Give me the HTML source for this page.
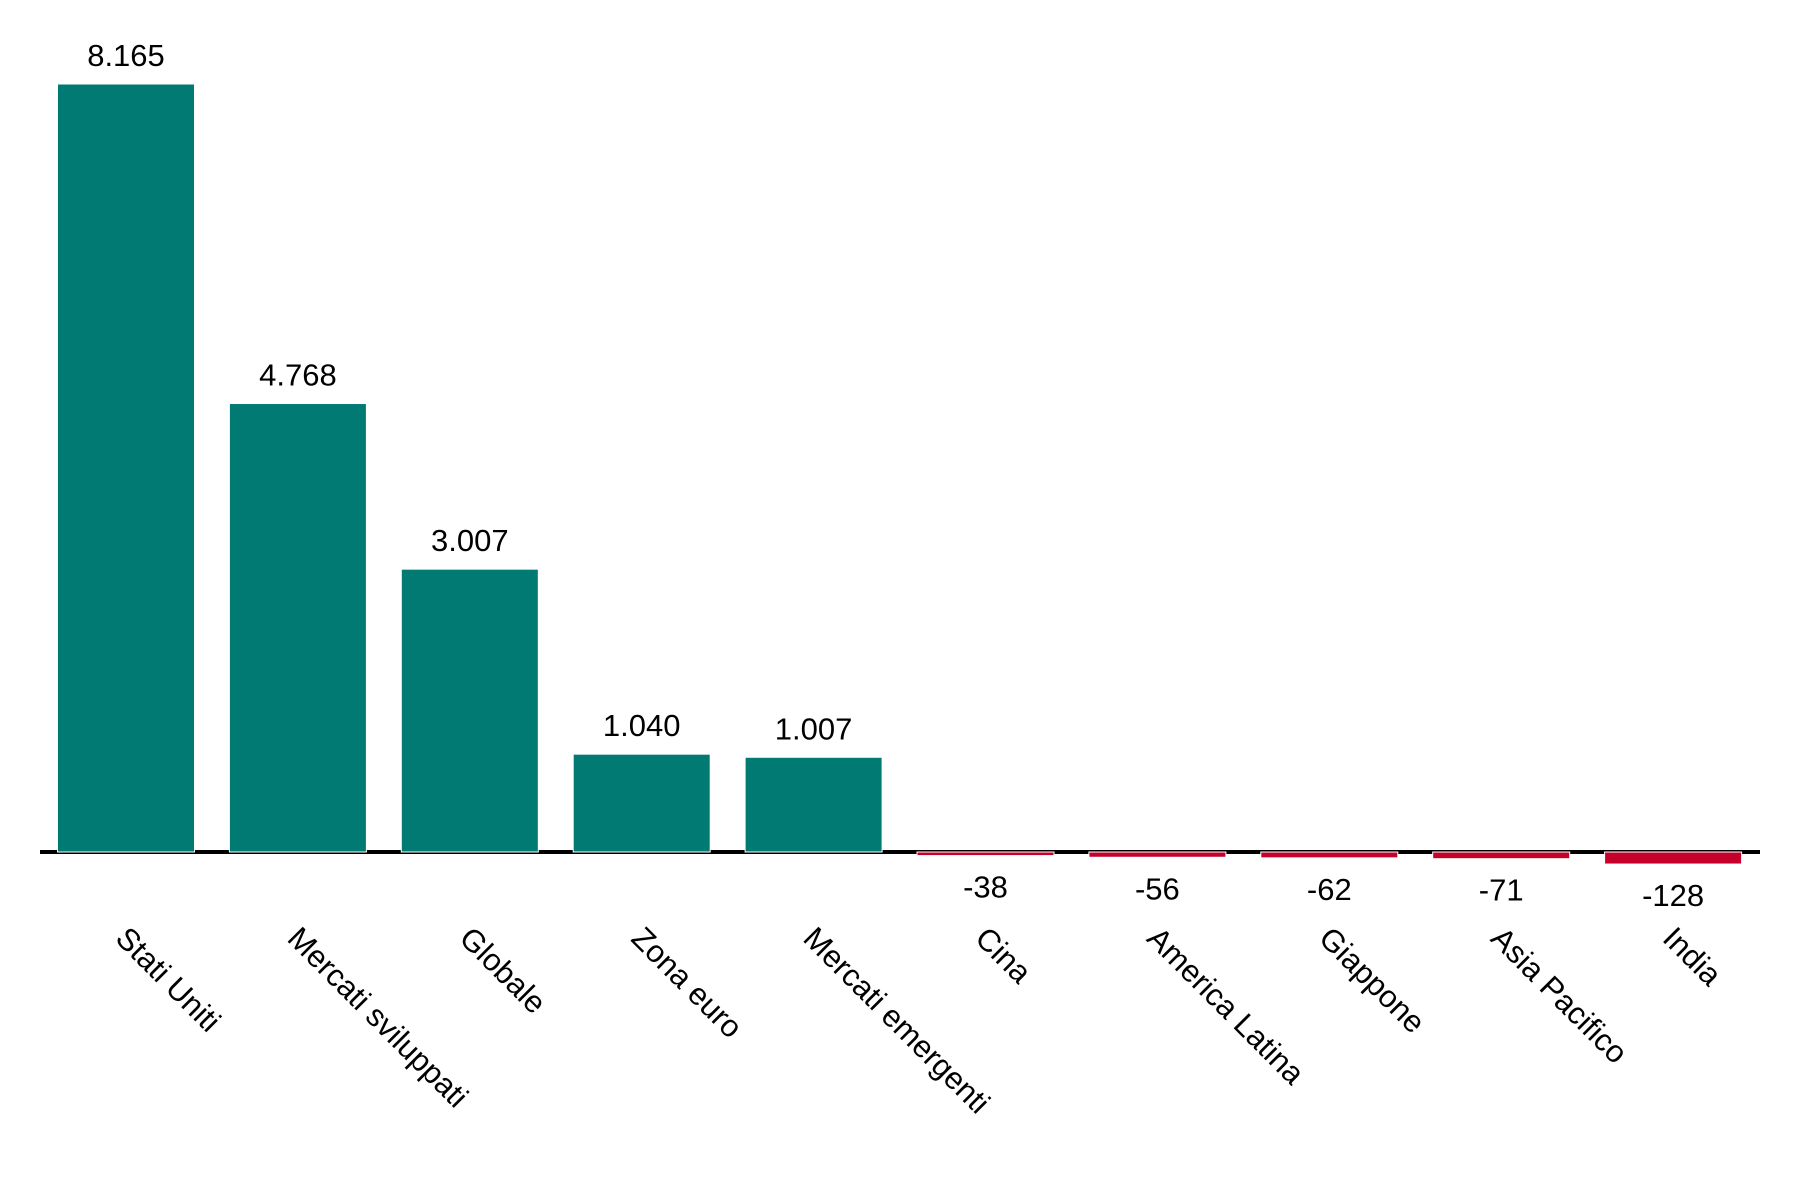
<!DOCTYPE html>
<html><head><meta charset="utf-8"><style>
body{margin:0;background:#fff;}
svg{display:block;font-family:"Liberation Sans",sans-serif;}
</style></head><body>
<svg id="chart" width="1800" height="1200" viewBox="0 0 1800 1200"></svg>
<script>
const categories=["Stati Uniti","Mercati sviluppati","Globale","Zona euro","Mercati emergenti","Cina","America Latina","Giappone","Asia Pacifico","India"];
const values=[8165,4768,3007,1040,1007,-38,-56,-62,-71,-128];
const valueLabels=["8.165","4.768","3.007","1.040","1.007","-38","-56","-62","-71","-128"];
const NS="http://www.w3.org/2000/svg";
const svg=document.getElementById('chart');
const zeroY=852, pxPerUnit=768/8165;
function y(v){return zeroY-v*pxPerUnit;}
function x(i){return 126+i*171.9;}
const bw=137;
function mk(t,a){const e=document.createElementNS(NS,t);for(const k in a)e.setAttribute(k,a[k]);svg.appendChild(e);return e;}
values.forEach((v,i)=>{
  const top=Math.min(y(v),zeroY), h=Math.abs(y(v)-zeroY);
  const r=mk('rect',{x:x(i)-bw/2,y:top,width:bw,height:Math.max(h,2),fill:v>=0?'#007a73':'#c4002b',stroke:'#fff','stroke-width':1});
  
  
  const t=mk('text',{x:x(i),y:v>=0?y(v)-18:y(v)+42,'text-anchor':'middle','font-size':31,fill:'#000'});
  t.textContent=valueLabels[i];
  
  
  const c=mk('text',{x:0,y:0,'font-size':31,fill:'#000',transform:`translate(${x(i)-12},${940}) rotate(45)`});
  c.textContent=categories[i];
  
  
});
const ax=mk('line',{x1:40,x2:1760,y1:zeroY,y2:zeroY,stroke:'#000','stroke-width':4});


svg.insertBefore(ax,svg.firstChild);
</script>
</body></html>
